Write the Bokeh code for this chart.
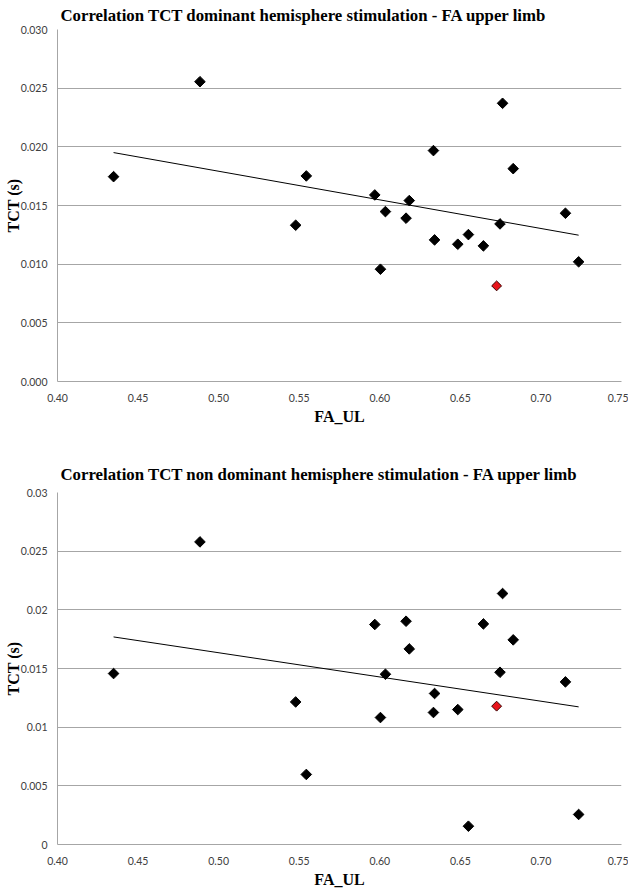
import numpy as np
from bokeh.plotting import figure
from bokeh.layouts import column
from bokeh.models import Range1d, FixedTicker, CustomJSTickFormatter
from bokeh.embed import file_html
from bokeh.resources import INLINE

# ---- data ----
fa_ul = [0.4348, 0.4884, 0.5478, 0.5544, 0.5969, 0.6004, 0.6035, 0.6163, 0.6183,
         0.6333, 0.6340, 0.6484, 0.6550, 0.6643, 0.6746, 0.6762, 0.6828, 0.7152, 0.7234]
tct_dom = [0.01746, 0.02555, 0.01332, 0.01752, 0.01590, 0.00957, 0.01448, 0.01392, 0.01542,
           0.01968, 0.01207, 0.01170, 0.01252, 0.01156, 0.01343, 0.02371, 0.01814, 0.01434, 0.01020]
tct_nondom = [0.01457, 0.02579, 0.01215, 0.00597, 0.01875, 0.01082, 0.01451, 0.01903, 0.01667,
              0.01125, 0.01287, 0.01150, 0.00156, 0.01880, 0.01468, 0.02139, 0.01744, 0.01386, 0.00256]
fa_red = [0.6725]
tct_dom_red = [0.00815]
tct_nondom_red = [0.01179]

trend_x = [0.4348, 0.7234]
trend_dom = [0.01951, 0.01247]
trend_nondom = [0.01769, 0.01173]

x_ticks = [0.40, 0.45, 0.50, 0.55, 0.60, 0.65, 0.70, 0.75]
x_labels = ["0.40", "0.45", "0.50", "0.55", "0.60", "0.65", "0.70", "0.75"]
y_ticks = [0.0, 0.005, 0.010, 0.015, 0.020, 0.025, 0.030]
y_labels_dom = ["0.000", "0.005", "0.010", "0.015", "0.020", "0.025", "0.030"]
y_labels_nondom = ["0", "0.005", "0.01", "0.015", "0.02", "0.025", "0.03"]

title_dom = "Correlation TCT dominant hemisphere stimulation - FA upper limb"
title_nondom = "Correlation TCT non dominant hemisphere stimulation - FA upper limb"

GRID = "#a6a6a6"
TICKC = "#404040"


def make(title, tct, tct_red, trend, ylabels, top, bottom, standoff):
    p = figure(frame_width=564, frame_height=352, x_range=Range1d(0.40, 0.75), y_range=Range1d(0, 0.03),
               output_backend="svg", toolbar_location=None,
               min_border_left=57, min_border_right=7, min_border_top=top, min_border_bottom=bottom,
               title=title)
    p.title.text_font = "Liberation Serif"
    p.title.text_font_style = "bold"
    p.title.text_font_size = "16.8px"
    p.title.vertical_align = "top"
    p.title.align = "left"
    p.title.offset = 3
    p.title.text_color = "#000000"
    p.title.standoff = standoff
    p.outline_line_color = None
    p.background_fill_color = "white"
    p.border_fill_color = "white"

    p.xgrid.grid_line_color = None
    p.ygrid.grid_line_color = GRID
    p.ygrid.grid_line_width = 1

    p.xaxis.ticker = FixedTicker(ticks=x_ticks)
    p.yaxis.ticker = FixedTicker(ticks=y_ticks)
    p.xaxis.formatter = CustomJSTickFormatter(args=dict(labels=x_labels), code="return labels[index];")
    p.yaxis.formatter = CustomJSTickFormatter(args=dict(labels=ylabels), code="return labels[index];")

    for ax in (p.xaxis[0], p.yaxis[0]):
        ax.axis_line_color = GRID
        ax.major_tick_line_color = None
        ax.minor_tick_line_color = None
        ax.major_tick_in = 0
        ax.major_tick_out = 0
        ax.major_label_text_font = "Lato"
        ax.major_label_text_font_size = "10.5px"
        ax.major_label_text_color = TICKC
        ax.axis_label_text_font = "Liberation Serif"
        ax.axis_label_text_font_style = "bold"
        ax.axis_label_text_font_size = "16px"
        ax.axis_label_text_color = "#000000"
        ax.axis_label_text_line_height = 1.0

    p.xaxis.axis_label = "FA_UL"
    p.yaxis.axis_label = "TCT (s)"
    p.xaxis.major_label_standoff = 12
    p.xaxis.axis_label_standoff = 3
    p.yaxis.major_label_standoff = 10
    p.yaxis.axis_label_standoff = -4

    p.line(trend_x, trend, line_color="black", line_width=1)
    p.scatter(fa_ul, tct, marker="square", angle=np.pi / 4, size=7.5,
              fill_color="black", line_color="black")
    p.scatter(fa_red, tct_red, marker="square", angle=np.pi / 4, size=7,
              fill_color="#e8141b", line_color="#3a0000")
    return p


p1 = make(title_dom, tct_dom, tct_dom_red, trend_dom, y_labels_dom, 29, 58, 6)
p2 = make(title_nondom, tct_nondom, tct_nondom_red, trend_nondom, y_labels_nondom, 53, 46, 13)

layout = column(p1, p2, spacing=0)
open("out.html", "w").write(file_html(layout, INLINE))
